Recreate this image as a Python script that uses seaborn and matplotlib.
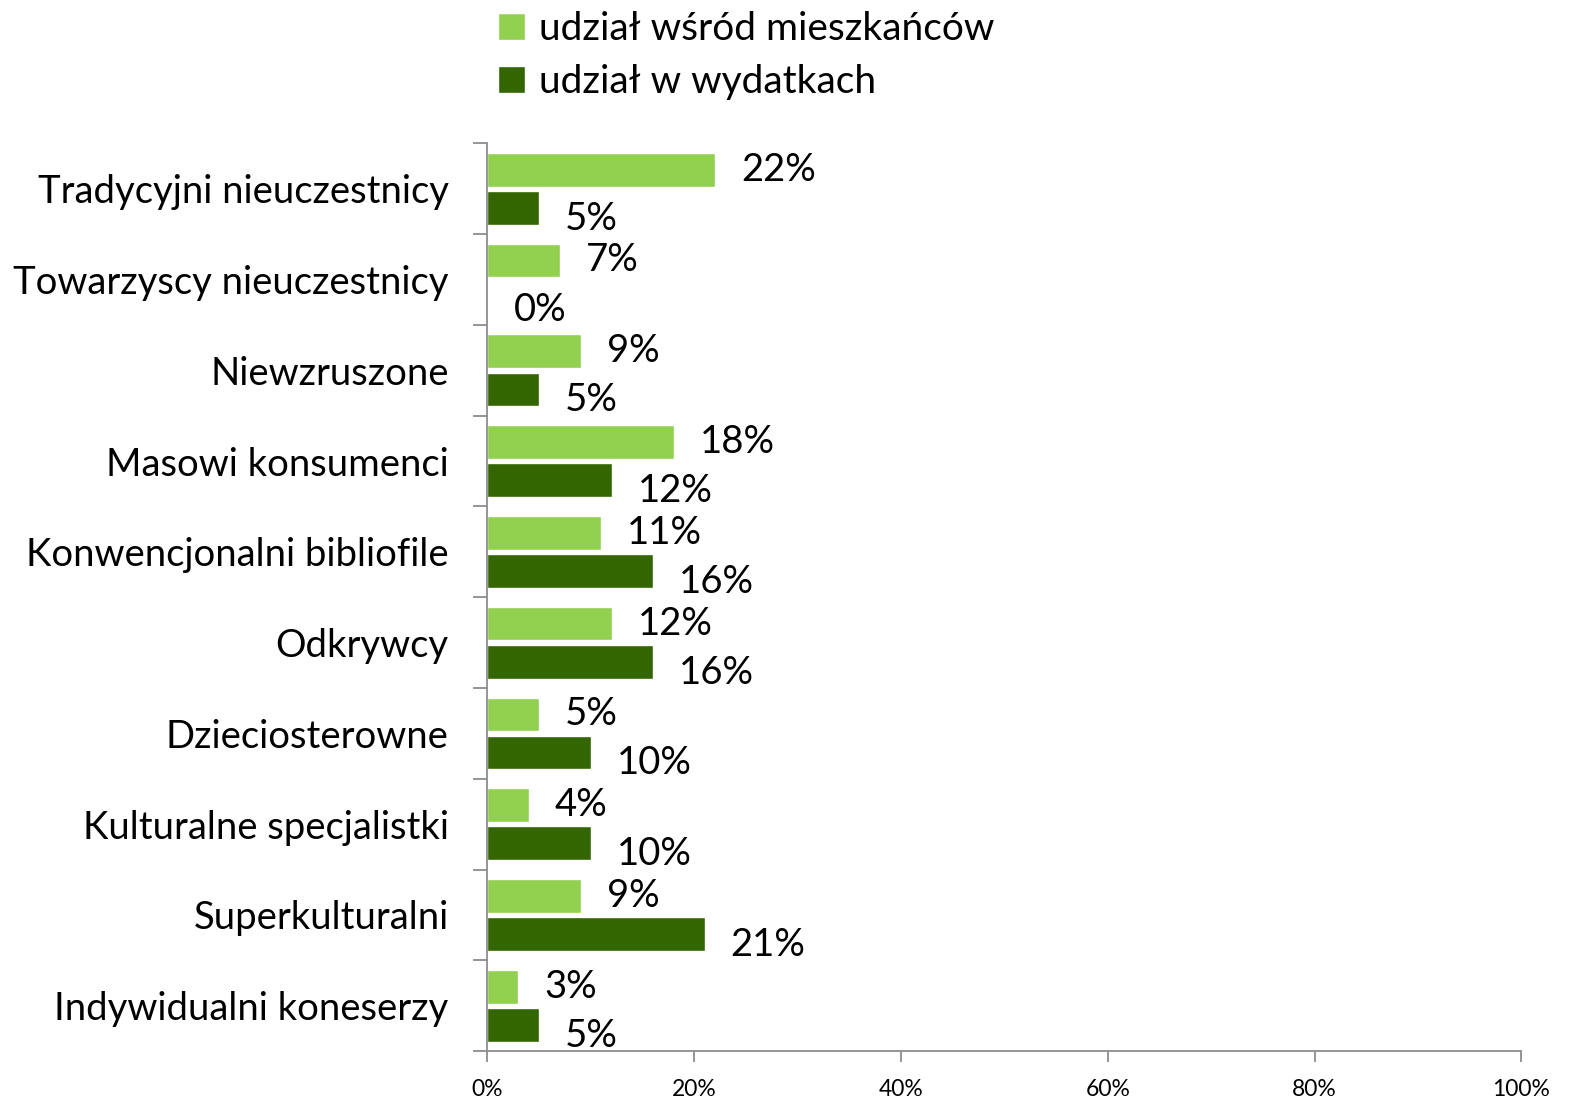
import pandas as pd
import matplotlib.pyplot as plt
import matplotlib.ticker as mticker
import seaborn as sns

# Data
categories = ["Tradycyjni nieuczestnicy", "Towarzyscy nieuczestnicy", "Niewzruszone",
              "Masowi konsumenci", "Konwencjonalni bibliofile", "Odkrywcy",
              "Dzieciosterowne", "Kulturalne specjalistki", "Superkulturalni",
              "Indywidualni koneserzy"]
share_residents = [22, 7, 9, 18, 11, 12, 5, 4, 9, 3]
share_spending = [5, 0, 5, 12, 16, 16, 10, 10, 21, 5]
series_names = ["udział wśród mieszkańców", "udział w wydatkach"]
colors = ["#92D050", "#336600"]

df = pd.DataFrame({
    "kategoria": categories * 2,
    "wartosc": share_residents + share_spending,
    "seria": [series_names[0]] * len(categories) + [series_names[1]] * len(categories),
})

sns.set_style("white")
plt.rcParams["font.family"] = ["Lato", "DejaVu Sans"]
plt.rcParams["text.color"] = "black"

fig = plt.figure(figsize=(15.75, 11.03), dpi=100)
ax = fig.add_axes([0.3095, 0.047, 0.6565, 0.823])

sns.barplot(data=df, x="wartosc", y="kategoria", hue="seria", order=categories,
            hue_order=series_names, palette=colors, width=0.84, orient="h",
            saturation=1, ax=ax, legend=True)

# slightly thinner bars, keep centers
for p in ax.patches:
    h = p.get_height()
    if h > 0:
        p.set_y(p.get_y() + (h - 0.37) / 2)
        p.set_height(0.37)

# data labels
for cont, dy in zip(ax.containers, [0.0, 0.12]):
    for bar, val in zip(cont, cont.datavalues):
        yc = bar.get_y() + bar.get_height() / 2 + dy
        ax.annotate(f"{val:.0f}%", xy=(val, yc), xytext=(26, 0),
                    textcoords="offset pixels", ha="left", va="center",
                    fontsize=27.5, color="black")

ax.set_xlim(0, 100)
ax.set_ylim(len(categories) - 0.5, -0.5)
ax.set_xlabel("")
ax.set_ylabel("")
ax.xaxis.set_major_locator(mticker.MultipleLocator(20))
ax.xaxis.set_major_formatter(mticker.PercentFormatter(decimals=0))

for s in ["top", "right"]:
    ax.spines[s].set_visible(False)
for s in ["left", "bottom"]:
    ax.spines[s].set_color("#8c8c8c")
    ax.spines[s].set_linewidth(1.3)

ax.tick_params(axis="x", which="major", direction="out", length=8, width=1.3,
               color="#8c8c8c", labelsize=16.5, labelcolor="black", pad=12, bottom=True)
ax.set_yticks([i - 0.5 for i in range(len(categories) + 1)], minor=True)
ax.tick_params(axis="y", which="minor", direction="out", length=10, width=1.3,
               color="#8c8c8c", left=True)
ax.tick_params(axis="y", which="major", length=0, labelsize=27.5,
               labelcolor="black", pad=28)

handles, labels = ax.get_legend_handles_labels()
ax.legend_.remove()
fig.legend(handles, labels, loc="upper left", bbox_to_anchor=(0.294, 1.022),
           frameon=False, fontsize=28, handlelength=0.7, handleheight=0.7,
           handletextpad=0.35, labelspacing=0.45)

fig.savefig("out.png", dpi=100)
